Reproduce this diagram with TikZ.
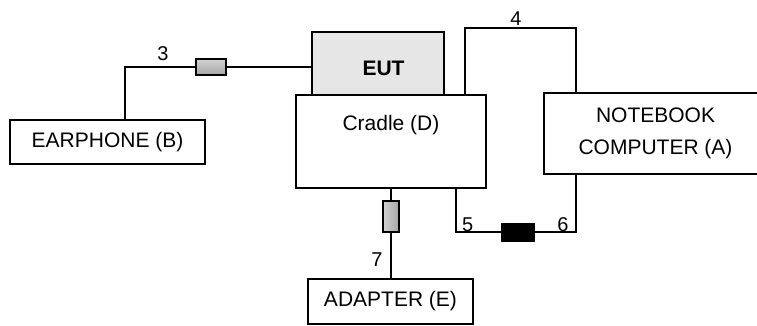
\documentclass[tikz,border=0pt]{standalone}
\usepackage{fontspec}
\setmainfont{Liberation Sans}
\definecolor{eutgray}{HTML}{E6E6E6}
\begin{document}
\begin{tikzpicture}[x=1pt,y=-1pt, line width=1.8pt,
  box/.style={draw, rectangle, inner sep=0pt},
  lbl/.style={font=\fontsize{21}{31.7}\selectfont, inner sep=0pt},
  num/.style={font=\fontsize{20}{24}\selectfont, inner sep=0pt},
  plugh/.style={draw, line width=1.5pt, rectangle, inner sep=0pt, minimum width=30pt, minimum height=16pt, top color=gray!35, middle color=white, bottom color=gray!70},
  plugv/.style={draw, line width=1.5pt, rectangle, inner sep=0pt, minimum width=16pt, minimum height=31pt, left color=gray!35, middle color=white, right color=gray!70},
  plugb/.style={draw, line width=1.5pt, rectangle, inner sep=0pt, minimum width=32pt, minimum height=17pt, fill=black}]
\useasboundingbox (0,0) rectangle (757,325);
\begin{scope}
\clip (0,0) rectangle (757,325);
% boxes
\node[box, minimum width=195pt, minimum height=44pt, lbl] (earphone) at (107.5,142) {EARPHONE (B)};
\node[box, fill=eutgray, minimum width=132pt, minimum height=63pt] (eut) at (378,63.5) {};
\node[lbl, font=\fontsize{21}{25}\selectfont\bfseries] (eutt) at (383.5,68.5) {EUT};
\node[box, minimum width=190pt, minimum height=93pt] (cradle) at (391,141.5) {};
\node[lbl] (cradlet) at (391,125) {Cradle (D)};
\node[box, minimum width=223pt, minimum height=81pt, lbl, align=center] (notebook) at (655.5,133.5) {NOTEBOOK\\COMPUTER (A)};
\node[box, minimum width=165pt, minimum height=45pt, lbl] (adapter) at (390.5,301.5) {ADAPTER (E)};
% coordinates
\coordinate (c3) at (125,67);
\coordinate (c4a) at (465,28);
\coordinate (c4b) at (576,28);
\coordinate (c5) at (456,232);
\coordinate (c6) at (576,232);
% plugs
\node[plugh] (p3) at (211,67) {};
\node[plugb] (p56) at (518,232.5) {};
\node[plugv] (p7) at (391,216.5) {};
% cables
\draw (earphone.north -| c3) -- (c3) -- (p3.west);
\draw (p3.east) -- (eut.west |- p3.east);
\draw (cradle.north -| c4a) -- (c4a) -- (c4b) -- (notebook.north -| c4b);
\draw (cradle.south -| c5) -- (c5) -- (p56.west |- c5);
\draw (p56.east |- c6) -- (c6) -- (notebook.south -| c6);
\draw (cradle.south -| p7.north) -- (p7.north);
\draw (p7.south) -- (adapter.north -| p7.south);
% labels
\node[num] (l3) at (163,53.5) {3};
\node[num] (l4) at (516,19) {4};
\node[num] (l5) at (467.7,225) {5};
\node[num] (l6) at (563,225) {6};
\node[num] (l7) at (377,259.5) {7};
\end{scope}
\end{tikzpicture}
\end{document}
